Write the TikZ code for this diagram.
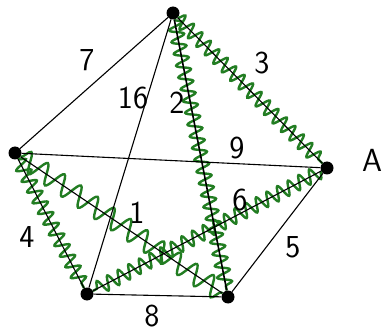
\documentclass[tikz,border=0pt]{standalone}
\usetikzlibrary{decorations.pathmorphing}
\definecolor{wavegreen}{RGB}{34,125,34}
\begin{document}
\begin{tikzpicture}[x=1pt,y=-1pt,
  vtx/.style={circle,fill=black,inner sep=0pt,minimum size=13pt},
  edge/.style={draw=black,line width=1.1pt},
  wave/.style={draw=wavegreen,line width=2.4pt,decorate,
    decoration={snake,segment length=12pt,amplitude=7pt}},
  bigwave/.style={draw=wavegreen,line width=2.4pt,decorate,
    decoration={snake,segment length=20pt,amplitude=10pt}},
  lbl/.style={font=\sffamily\fontsize{32}{36}\selectfont,inner sep=0pt}]
\useasboundingbox (0,0) rectangle (386,334);
\node[vtx] (t) at (173,13) {};
\node[vtx] (l) at (15,153) {};
\node[vtx] (r) at (327,168) {};
\node[vtx] (bl) at (87,294) {};
\node[vtx] (br) at (228,297) {};
% green wavy edges
\draw[wave] (t) -- (r);
\draw[wave] (t) -- (br);
\draw[wave] (l) -- (bl);
\draw[bigwave] (l) -- (br);
\draw[wave] (r) -- (bl);
% black edges
\draw[edge] (t) -- (l);
\draw[edge] (t) -- (r);
\draw[edge] (t) -- (bl);
\draw[edge,line width=1.6pt] (t) -- (br);
\draw[edge] (l) -- (r);
\draw[edge] (l) -- (bl);
\draw[edge] (l) -- (br);
\draw[edge] (r) -- (bl);
\draw[edge] (r) -- (br);
\draw[edge] (bl) -- (br);
% labels
\node[lbl] (w7) at (87,60) {7};
\node[lbl] (w3) at (262,63) {3};
\node[lbl] (w16) at (133,98) {16};
\node[lbl] (w2) at (177,103) {2};
\node[lbl] (w9) at (237,148) {9};
\node[lbl] (A) at (372,160) {A};
\node[lbl] (w6) at (240,200) {6};
\node[lbl] (w1) at (137,213) {1};
\node[lbl] (w4) at (27,237) {4};
\node[lbl] (w5) at (293,247) {5};
\node[lbl] (w8) at (152,316) {8};
\end{tikzpicture}
\end{document}
